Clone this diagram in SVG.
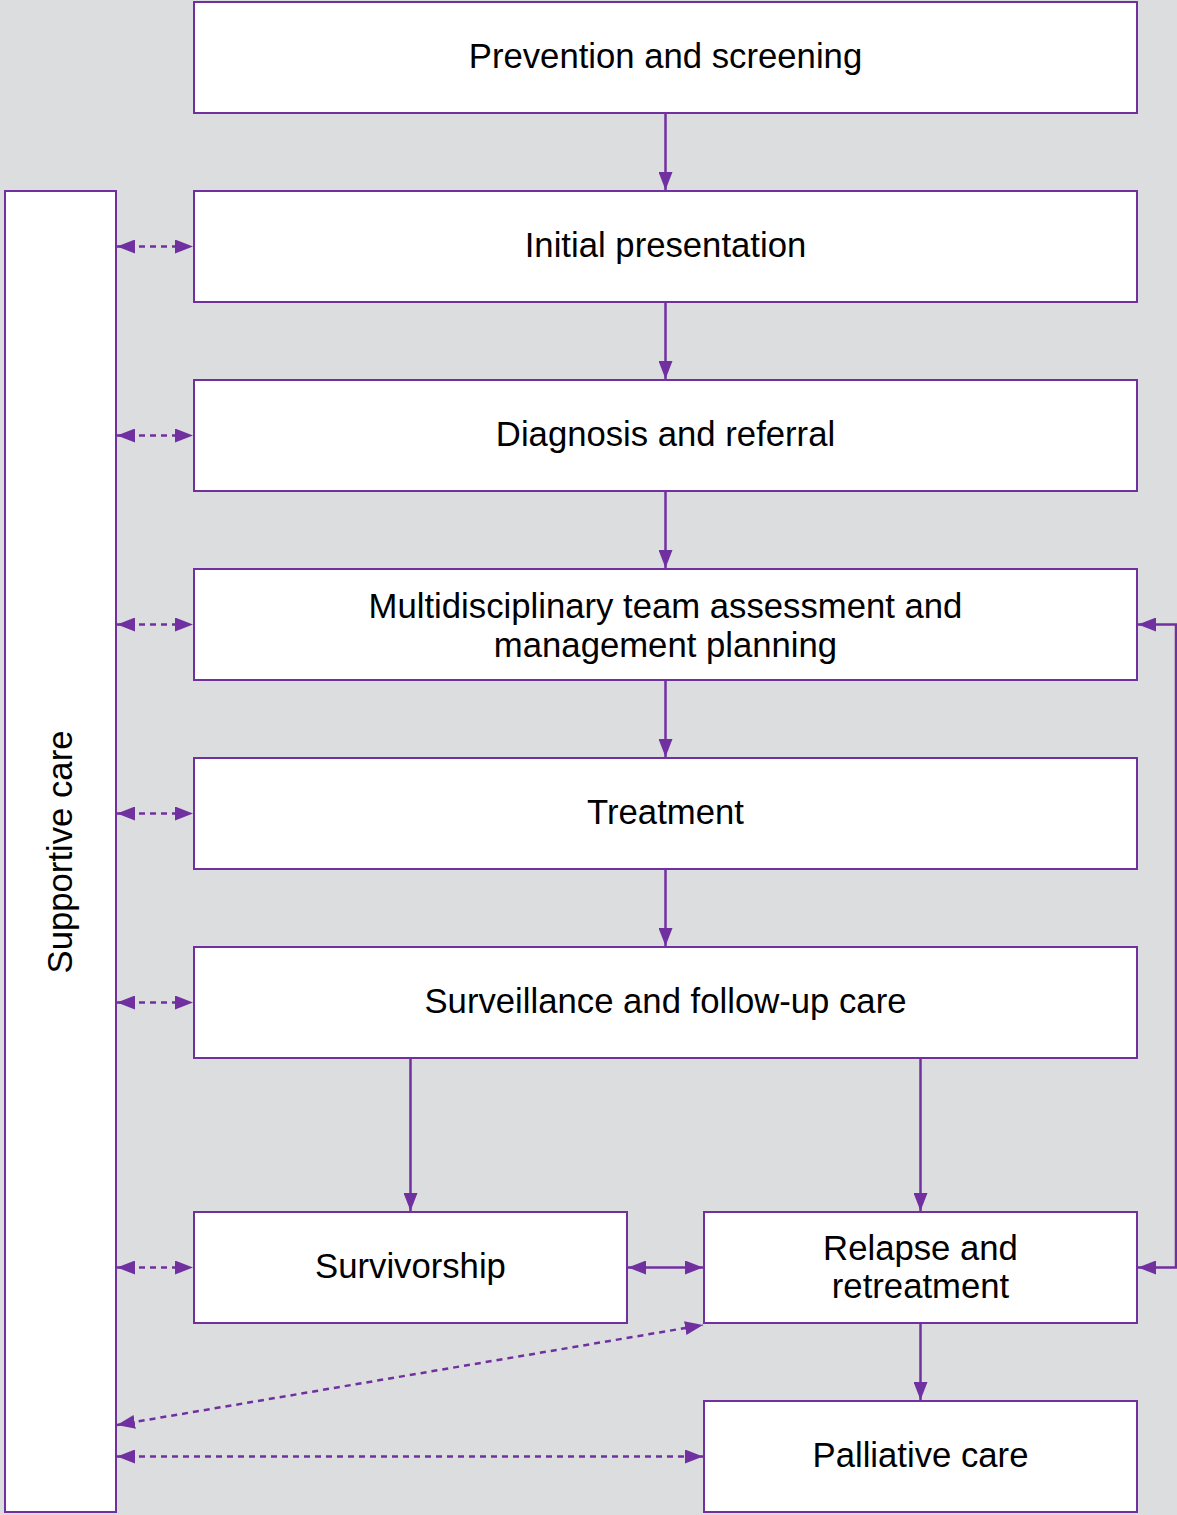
<svg xmlns="http://www.w3.org/2000/svg" width="1177" height="1515" viewBox="0 0 1177 1515">
<style>
.box{fill:#fff;stroke:#7030A0;stroke-width:2}
.t{font-family:"Liberation Sans",Arial,sans-serif;font-size:34.7px;fill:#000;text-anchor:middle}
.c{fill:none;stroke:#7030A0;stroke-width:2.5}
.d{stroke-dasharray:6 5}
</style>
<defs>
<marker id="a" markerUnits="userSpaceOnUse" viewBox="0 0 18 14" refX="18" refY="7" markerWidth="18" markerHeight="14" orient="auto-start-reverse">
<path d="M0,0 L18,7 L0,14 z" fill="#7030A0"/>
</marker>
</defs>
<rect width="1177" height="1515" fill="#DCDDDF"/>
<g id="supportive"><rect class="box" x="5" y="191" width="111" height="1321"/><text class="t" transform="translate(72,852) rotate(-90)">Supportive care</text></g>
<g id="prevention"><rect class="box" x="194" y="2" width="943" height="111"/><text class="t" x="665.5" y="68">Prevention and screening</text></g>
<g id="initial"><rect class="box" x="194" y="191" width="943" height="111"/><text class="t" x="665.5" y="257">Initial presentation</text></g>
<g id="diagnosis"><rect class="box" x="194" y="380" width="943" height="111"/><text class="t" x="665.5" y="446">Diagnosis and referral</text></g>
<g id="mdt"><rect class="box" x="194" y="569" width="943" height="111"/><text class="t" x="665.5" y="618">Multidisciplinary team assessment and</text><text class="t" x="665.5" y="657">management planning</text></g>
<g id="treatment"><rect class="box" x="194" y="758" width="943" height="111"/><text class="t" x="665.5" y="824">Treatment</text></g>
<g id="surveillance"><rect class="box" x="194" y="947" width="943" height="111"/><text class="t" x="665.5" y="1013">Surveillance and follow-up care</text></g>
<g id="survivorship"><rect class="box" x="194" y="1212" width="433" height="111"/><text class="t" x="410.5" y="1278">Survivorship</text></g>
<g id="relapse"><rect class="box" x="704" y="1212" width="433" height="111"/><text class="t" x="920.5" y="1260">Relapse and</text><text class="t" x="920.5" y="1298">retreatment</text></g>
<g id="palliative"><rect class="box" x="704" y="1401" width="433" height="111"/><text class="t" x="920.5" y="1467">Palliative care</text></g>
<g id="connectors">
<path class="c" marker-end="url(#a)" d="M665.5,114 V190"/>
<path class="c" marker-end="url(#a)" d="M665.5,303 V379"/>
<path class="c" marker-end="url(#a)" d="M665.5,492 V568"/>
<path class="c" marker-end="url(#a)" d="M665.5,681 V757"/>
<path class="c" marker-end="url(#a)" d="M665.5,870 V946"/>
<path class="c" marker-end="url(#a)" d="M410.5,1059 V1211"/>
<path class="c" marker-end="url(#a)" d="M920.5,1059 V1211"/>
<path class="c" marker-end="url(#a)" d="M920.5,1324 V1400"/>
<path class="c" marker-start="url(#a)" marker-end="url(#a)" d="M628,1267.5 H703"/>
<path class="c" marker-start="url(#a)" marker-end="url(#a)" d="M1138,1267.5 H1176 V624.5 H1138"/>
<path class="c d" marker-start="url(#a)" marker-end="url(#a)" d="M117,246.5 H193"/>
<path class="c d" marker-start="url(#a)" marker-end="url(#a)" d="M117,435.5 H193"/>
<path class="c d" marker-start="url(#a)" marker-end="url(#a)" d="M117,624.5 H193"/>
<path class="c d" marker-start="url(#a)" marker-end="url(#a)" d="M117,813.5 H193"/>
<path class="c d" marker-start="url(#a)" marker-end="url(#a)" d="M117,1002.5 H193"/>
<path class="c d" marker-start="url(#a)" marker-end="url(#a)" d="M117,1267.5 H193"/>
<path class="c d" marker-start="url(#a)" marker-end="url(#a)" d="M117,1425 L703,1325"/>
<path class="c d" marker-start="url(#a)" marker-end="url(#a)" d="M117,1456.5 H703"/>
</g>
</svg>
